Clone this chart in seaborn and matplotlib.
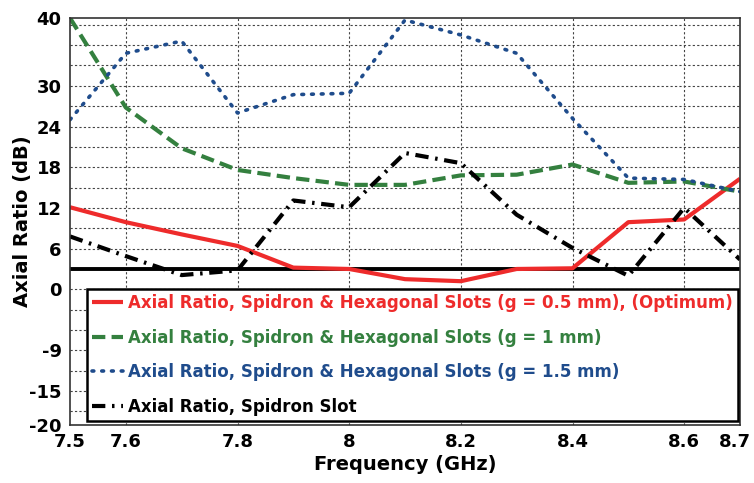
import numpy as np
import pandas as pd
import matplotlib
matplotlib.use("Agg")
import matplotlib.pyplot as plt
import matplotlib.transforms as mtransforms
import seaborn as sns

freq = [7.5, 7.6, 7.7, 7.8, 7.9, 8.0, 8.1, 8.2, 8.3, 8.4, 8.5, 8.6, 8.7]
ar_g05 = [12.1, 9.9, 8.1, 6.4, 3.2, 3.0, 1.5, 1.2, 3.0, 3.1, 9.9, 10.3, 16.3]
ar_g1 = [40.0, 26.8, 20.8, 17.6, 16.4, 15.4, 15.4, 16.8, 16.9, 18.4, 15.7, 15.9, 14.4]
ar_g15 = [25.0, 34.8, 36.6, 26.0, 28.7, 28.9, 39.7, 37.5, 34.8, 25.2, 16.4, 16.2, 14.4]
ar_spidron = [7.8, 4.9, 2.1, 2.8, 13.1, 12.1, 20.1, 18.6, 11.0, 6.1, 2.0, 12.0, 4.4]
ref_level = 3

labels = [
    "Axial Ratio, Spidron & Hexagonal Slots (g = 0.5 mm), (Optimum)",
    "Axial Ratio, Spidron & Hexagonal Slots (g = 1 mm)",
    "Axial Ratio, Spidron & Hexagonal Slots (g = 1.5 mm)",
    "Axial Ratio, Spidron Slot",
]
series = [ar_g05, ar_g1, ar_g15, ar_spidron]
colors = ["#EE2B2B", "#34803F", "#1F4C8C", "#000000"]
styles = ["-", (0, (3.2, 1.5)), (0, (0.5, 2.2)), (0, (3.2, 1.6, 0.6, 1.6))]
widths = [3.0, 3.0, 2.6, 3.0]

xticks = [7.5, 7.6, 7.8, 8.0, 8.2, 8.4, 8.6, 8.7]
xticklabels = ["7.5", "7.6", "7.8", "8", "8.2", "8.4", "8.6", "8.7"]
yticks = [40, 30, 24, 18, 12, 6, 0, -9, -15, -20]

sns.set_theme(style="white")
plt.rcParams["font.family"] = ["DejaVu Sans"]
plt.rcParams["axes.unicode_minus"] = False

fig = plt.figure(figsize=(7.54, 4.83), dpi=100)
ax = fig.add_axes([70 / 754, 1 - 425 / 483, 670 / 754, 407 / 483])

df = pd.DataFrame({"freq": freq})
for lab, vals, c, ls, lw in zip(labels, series, colors, styles, widths):
    df[lab] = vals
    sns.lineplot(data=df, x="freq", y=lab, ax=ax, color=c, linewidth=lw,
                 label=lab, solid_capstyle="butt",
                 dash_capstyle="round" if ls == styles[2] else "butt")
    ax.lines[-1].set_linestyle(ls)

ax.axhline(ref_level, color="black", linewidth=2.8, zorder=1.5)

ax.set_xlim(7.5, 8.7)
ax.set_ylim(-20, 40)
ax.set_xticks(xticks)
ax.set_xticklabels(xticklabels)
ax.set_yticks(yticks)
ax.tick_params(axis="both", which="major", labelsize=13, length=4, width=1,
               color="black", labelcolor="black")
ax.tick_params(axis="x", direction="in", pad=6)
ax.tick_params(axis="y", direction="out", pad=2)
for t in ax.get_xticklabels() + ax.get_yticklabels():
    t.set_fontweight("bold")
# nudge last x label so it stays inside the canvas
last = ax.get_xticklabels()[-1]
last.set_transform(last.get_transform() + mtransforms.ScaledTranslation(-4 / 72, 0, fig.dpi_scale_trans))

ax.grid(False)
for yv in np.arange(-18, 40, 3):
    ax.axhline(yv, linestyle=(0, (2, 2)), color="#444444", linewidth=0.8, zorder=0.5)
for xv in [7.6, 7.8, 8.0, 8.2, 8.4, 8.6]:
    ax.axvline(xv, linestyle=(0, (2, 2)), color="#444444", linewidth=0.8, zorder=0.5)

for s in ax.spines.values():
    s.set_color("#333333")
    s.set_linewidth(1.2)

ax.set_xlabel("Frequency (GHz)", fontsize=14, fontweight="bold", labelpad=3, color="black")
ax.set_ylabel("Axial Ratio (dB)", fontsize=14, fontweight="bold", color="black")
ax.yaxis.set_label_coords(-0.056, 0.5)

leg = ax.legend(loc="lower left", bbox_to_anchor=(0.025, 0.01), fontsize=12,
                frameon=True, fancybox=False, edgecolor="black", framealpha=1,
                handlelength=1.9, handletextpad=0.3, borderpad=0.3,
                labelspacing=1.0, borderaxespad=0)
leg.get_frame().set_linewidth(1.8)
for txt, c in zip(leg.get_texts(), colors):
    txt.set_color(c)
    txt.set_fontweight("bold")

fig.savefig("out.png", dpi=100)
